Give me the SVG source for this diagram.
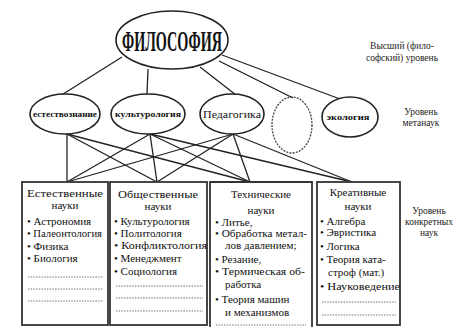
<svg xmlns="http://www.w3.org/2000/svg" width="463" height="327" viewBox="0 0 463 327">
<style>
.el{fill:#fff;stroke:#222;stroke-width:1.6}
.eld{fill:none;stroke:#444;stroke-width:1.3;stroke-dasharray:2 1.2}
.ln{stroke:#222;stroke-width:1.3;fill:none}
.box{fill:#fff;stroke:#333;stroke-width:1.8}
text{font-family:'Liberation Serif','DejaVu Serif','Times New Roman',serif;fill:#111}
.bx{font-size:11px}
.ttl{font-size:11px;text-anchor:middle}
.et{font-size:8px;font-weight:bold;text-anchor:middle}
.side{font-size:9.5px;text-anchor:middle;fill:#222}
.dot{stroke:#777;stroke-width:1;stroke-dasharray:1.5 1.2}
</style>
<rect width="463" height="327" fill="#fff"/>
<g id="connectors">
<line class="ln" x1="122" y1="57" x2="60" y2="96"/>
<line class="ln" x1="148" y1="69" x2="147" y2="94"/>
<line class="ln" x1="200" y1="67" x2="236" y2="95"/>
<line class="ln" x1="219" y1="61" x2="293" y2="98"/>
<line class="ln" x1="222" y1="55" x2="340" y2="99"/>
<line class="ln" x1="67" y1="134" x2="67" y2="182"/>
<line class="ln" x1="67" y1="134" x2="157" y2="182"/>
<line class="ln" x1="67" y1="134" x2="250" y2="182"/>
<line class="ln" x1="150" y1="134" x2="67" y2="182"/>
<line class="ln" x1="150" y1="134" x2="157" y2="182"/>
<line class="ln" x1="150" y1="134" x2="250" y2="182"/>
<line class="ln" x1="150" y1="134" x2="352" y2="182"/>
<line class="ln" x1="233" y1="134" x2="67" y2="182"/>
<line class="ln" x1="233" y1="134" x2="157" y2="182"/>
<line class="ln" x1="233" y1="134" x2="250" y2="182"/>
<line class="ln" x1="233" y1="134" x2="352" y2="182"/>
</g>
<g id="philosophy">
<ellipse class="el" cx="172" cy="40" rx="56" ry="29"/>
<text x="172" y="51" font-size="30" font-weight="bold" text-anchor="middle" textLength="100" lengthAdjust="spacingAndGlyphs">ФИЛОСОФИЯ</text>
</g>
<g id="e1">
<ellipse class="el" cx="65" cy="114" rx="35" ry="20"/>
<text class="et" x="65" y="117" textLength="64" lengthAdjust="spacingAndGlyphs">естествознание</text>
</g>
<g id="e2">
<ellipse class="el" cx="148" cy="114" rx="37" ry="20"/>
<text class="et" x="148" y="117" textLength="66" lengthAdjust="spacingAndGlyphs">культурология</text>
</g>
<g id="e3">
<ellipse class="el" cx="232" cy="114" rx="32" ry="20"/>
<text x="232" y="118" font-size="10" text-anchor="middle" textLength="58" lengthAdjust="spacingAndGlyphs">Педагогика</text>
</g>
<g id="e4">
<ellipse class="eld" cx="292" cy="125" rx="20" ry="28"/>
</g>
<g id="e5">
<ellipse class="el" cx="350" cy="117" rx="28" ry="20"/>
<text class="et" x="348" y="120" textLength="43" lengthAdjust="spacingAndGlyphs">экология</text>
</g>
<g id="label-top">
<text class="side" x="402" y="49">Высший (фило-</text>
<text class="side" x="402" y="61">софский) уровень</text>
</g>
<g id="label-meta">
<text class="side" x="421" y="115">Уровень</text>
<text class="side" x="421" y="126">метанаук</text>
</g>
<g id="label-concrete">
<text class="side" x="429" y="214" font-size="9">Уровень</text>
<text class="side" x="429" y="225" font-size="9">конкретных</text>
<text class="side" x="429" y="236" font-size="9">наук</text>
</g>
<g id="box1">
<rect class="box" x="22" y="182" width="86" height="143"/>
<text class="ttl" x="65" y="197" textLength="76" lengthAdjust="spacingAndGlyphs">Естественные</text>
<text class="ttl" x="65" y="209">науки</text>
<text class="bx" x="27" y="225">• Астрономия</text>
<text class="bx" x="27" y="237" textLength="75" lengthAdjust="spacingAndGlyphs">• Палеонтология</text>
<text class="bx" x="27" y="250">• Физика</text>
<text class="bx" x="27" y="262">• Биология</text>
<line class="dot" x1="28" y1="277" x2="103" y2="277"/>
<line class="dot" x1="28" y1="289" x2="103" y2="289"/>
<line class="dot" x1="28" y1="301" x2="103" y2="301"/>
</g>
<g id="box2">
<rect class="box" x="110" y="182" width="97" height="143"/>
<text class="ttl" x="158" y="198" textLength="80" lengthAdjust="spacingAndGlyphs">Общественные</text>
<text class="ttl" x="158" y="210">науки</text>
<text class="bx" x="114" y="225">• Культурология</text>
<text class="bx" x="114" y="237">• Политология</text>
<text class="bx" x="114" y="249" textLength="93" lengthAdjust="spacingAndGlyphs">• Конфликтология</text>
<text class="bx" x="114" y="262">• Менеджмент</text>
<text class="bx" x="114" y="275">• Социология</text>
<line class="dot" x1="116" y1="286" x2="203" y2="286"/>
<line class="dot" x1="116" y1="298" x2="203" y2="298"/>
<line class="dot" x1="116" y1="311" x2="203" y2="311"/>
</g>
<g id="box3">
<path class="box" d="M210,330 V182 H312 V330"/>
<text class="ttl" x="261" y="198">Технические</text>
<text class="ttl" x="261" y="214">науки</text>
<text class="bx" x="215" y="226">• Литье,</text>
<text class="bx" x="215" y="237" textLength="92" lengthAdjust="spacingAndGlyphs">• Обработка метал-</text>
<text class="bx" x="225" y="249">лов давлением;</text>
<text class="bx" x="215" y="263">• Резание,</text>
<text class="bx" x="215" y="275" textLength="90" lengthAdjust="spacingAndGlyphs">• Термическая об-</text>
<text class="bx" x="225" y="288">работка</text>
<text class="bx" x="215" y="303">• Теория машин</text>
<text class="bx" x="225" y="316">и механизмов</text>
<line class="dot" x1="216" y1="325" x2="306" y2="325"/>
</g>
<g id="box4">
<rect class="box" x="317" y="182" width="83" height="143"/>
<text class="ttl" x="358" y="196">Креативные</text>
<text class="ttl" x="358" y="210">науки</text>
<text class="bx" x="320" y="225">• Алгебра</text>
<text class="bx" x="320" y="236">• Эвристика</text>
<text class="bx" x="320" y="250">• Логика</text>
<text class="bx" x="320" y="263">• Теория ката-</text>
<text class="bx" x="328" y="276">строф (мат.)</text>
<text class="bx" x="320" y="290" textLength="80" lengthAdjust="spacingAndGlyphs">• Науковедение</text>
<line class="dot" x1="322" y1="302" x2="396" y2="302"/>
<line class="dot" x1="322" y1="315" x2="396" y2="315"/>
</g>
</svg>
